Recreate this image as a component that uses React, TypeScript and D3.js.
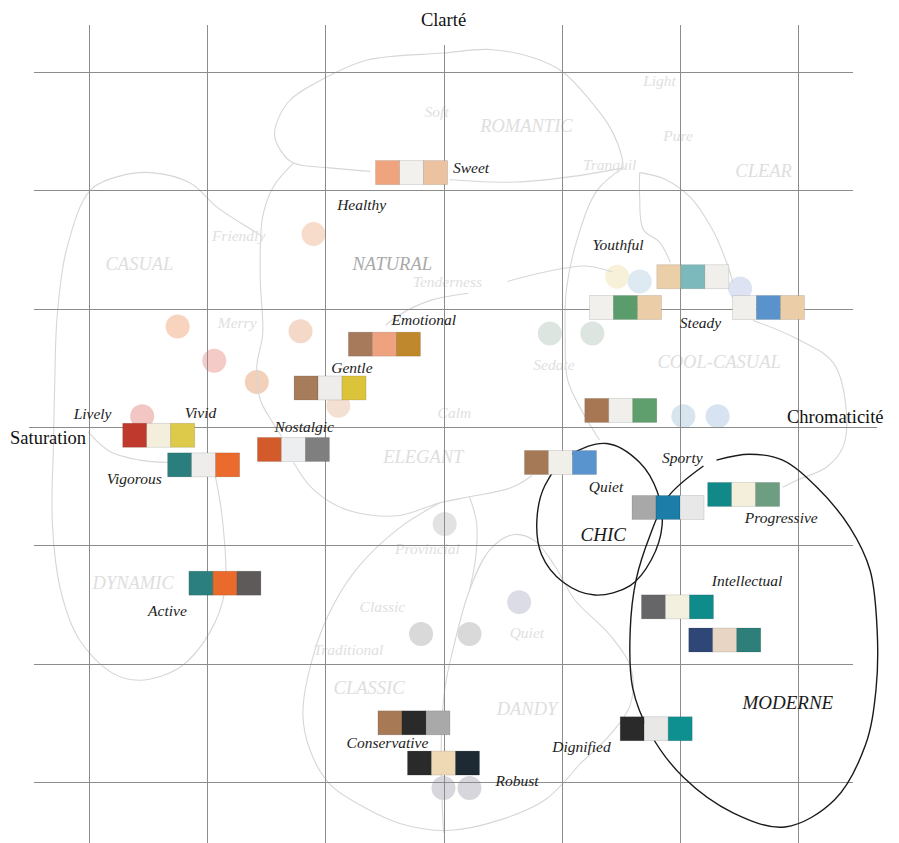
import React from 'react';
import * as d3 from 'd3';

const W = 899;
const H = 843;

// image scale: grid units, -3..3 on both axes
const gridTicks = [-3, -2, -1, 0, 1, 2, 3];

// three-colour palettes: centre of the strip in grid units
const paletteX = [-0.27, 2.11, 1.54, 2.75, -0.5, -0.96, -2.41, -2.03, -1.27, 1.5, 0.99, 1.9, 2.54, -1.85, 1.98, 2.38, 1.8, -0.25, 0.0];
const paletteY = [2.15, 1.27, 1.01, 1.01, 0.7, 0.33, -0.07, -0.32, -0.19, 0.14, -0.3, -0.68, -0.57, -1.32, -1.52, -1.8, -2.55, -2.5, -2.84];
const paletteColors = [
  ['#EFA47E', '#F3F1EE', '#EBC3A0'], // sweet / healthy
  ['#EBCFA8', '#7CB9BC', '#F1EFEB'], // youthful
  ['#F1F0EC', '#5B9C6C', '#EBCDA8'], // steady
  ['#F1EFEB', '#5A93CC', '#EBCDA8'], // steady
  ['#A87A5C', '#EFA27F', '#C0882C'], // emotional
  ['#A77C5B', '#EEEDEB', '#DCC43A'], // gentle
  ['#BF3A2C', '#F3EFDC', '#DDC94A'], // lively / vivid
  ['#2A7E7E', '#EEEDEB', '#EA6B2D'], // vigorous
  ['#D35A2B', '#EDEEEF', '#7F7F7F'], // nostalgic
  ['#A67752', '#F1EFEB', '#5E9F6D'],
  ['#A57955', '#F1EFEA', '#5A94CE'], // quiet
  ['#A8A8A8', '#1C7EA8', '#E8E8E8'], // sporty
  ['#128989', '#F3EFDA', '#6E9E82'], // progressive
  ['#2B7F7E', '#EA6A2C', '#5E5A5A'], // active
  ['#666668', '#F3F0DF', '#0F8B8B'], // intellectual
  ['#2F4777', '#E8D5C4', '#2E7E79'],
  ['#2A2A2A', '#E8E8E6', '#0F9090'], // dignified
  ['#A77A55', '#2A2A2A', '#A9A9A9'], // conservative
  ['#2A2A2A', '#EFD9B4', '#1E2A33'], // robust
];

// palette labels (start, baseline) in grid units
const labelText = ['Sweet', 'Healthy', 'Youthful', 'Steady', 'Emotional', 'Gentle', 'Lively', 'Vivid', 'Vigorous', 'Nostalgic', 'Quiet', 'Sporty', 'Progressive', 'Active', 'Intellectual', 'Dignified', 'Conservative', 'Robust'];
const labelX = [0.08, -0.9, 1.26, 2.0, -0.44, -0.95, -3.13, -2.19, -2.85, -1.43, 1.23, 1.85, 2.55, -2.5, 2.27, 0.92, -0.82, 0.44];
const labelY = [2.15, 1.83, 1.5, 0.84, 0.86, 0.46, 0.07, 0.08, -0.48, -0.04, -0.55, -0.3, -0.81, -1.6, -1.34, -2.75, -2.71, -3.03];

// faded background regions
const regionText = ['ROMANTIC', 'CLEAR', 'CASUAL', 'NATURAL', 'COOL-CASUAL', 'ELEGANT', 'DYNAMIC', 'CLASSIC', 'DANDY'];
const regionX = [0.31, 2.47, -2.86, -0.77, 1.81, -0.51, -2.97, -0.93, 0.45];
const regionY = [2.49, 2.11, 1.33, 1.33, 0.5, -0.3, -1.37, -2.26, -2.43];

const wordText = ['Soft', 'Light', 'Pure', 'Tranquil', 'Friendly', 'Merry', 'Tenderness', 'Sedate', 'Calm', 'Provincial', 'Classic', 'Traditional', 'Quiet'];
const wordX = [-0.16, 1.69, 1.86, 1.18, -1.96, -1.91, -0.26, 0.76, -0.05, -0.41, -0.71, -1.1, 0.56];
const wordY = [2.62, 2.88, 2.42, 2.17, 1.57, 0.84, 1.18, 0.48, 0.08, -1.07, -1.56, -1.93, -1.78];

const dotX = [-1.1, -2.25, -1.94, -1.58, -1.21, -0.89, -2.55, 0.9, 1.26, 1.47, 1.66, 2.51, 2.03, 2.32, 0.01, -0.19, 0.22, 0.64, 0.0, 0.22];
const dotY = [1.63, 0.85, 0.56, 0.38, 0.81, 0.18, 0.09, 0.79, 0.79, 1.27, 1.23, 1.17, 0.09, 0.09, -0.82, -1.75, -1.75, -1.48, -3.05, -3.05];
const dotColor = ['#F7DCCB', '#F8D3BD', '#F4CBC6', '#F3D0BA', '#F4D8C8', '#F3E0D3', '#F2C6C2', '#DCE5DF', '#DCE5DF', '#F7F1DA', '#DEEAF1', '#DEE3F3', '#D7E5EF', '#D8E3F1', '#E2E2E2', '#D9D9D9', '#D9D9D9', '#DCDCE6', '#D6D6DC', '#D6D6DC'];

const faintCurves: [number, number][][] = [
  // casual / dynamic
  [[-1.93, -0.42], [-1.87, -0.79], [-1.85, -1.38], [-1.98, -1.74], [-2.23, -2.03], [-2.57, -2.14], [-2.8, -2.08], [-3.08, -1.8], [-3.24, -1.38], [-3.31, -0.81], [-3.3, -0.11], [-3.29, 0.37], [-3.27, 0.93], [-3.19, 1.5], [-2.99, 2.0], [-2.74, 2.12], [-2.48, 2.15], [-2.14, 2.06], [-1.92, 1.86], [-1.66, 1.69], [-1.53, 1.61]],
  [[-3.01, -0.04], [-2.82, -0.21], [-2.57, -0.28], [-2.33, -0.3]],
  // romantic
  [[-0.62, 2.16], [-0.96, 2.19], [-1.27, 2.23], [-1.38, 2.34], [-1.43, 2.48], [-1.32, 2.74], [-1.04, 2.93], [-0.65, 3.1], [0.0, 3.16], [0.39, 3.19], [0.76, 3.12], [1.01, 3.0], [1.24, 2.76], [1.41, 2.53], [1.51, 2.28], [1.52, 2.19]],
  [[0.05, 2.09], [0.62, 2.07], [1.11, 2.12], [1.52, 2.19]],
  // natural
  [[-1.27, 2.23], [-1.44, 2.03], [-1.53, 1.78], [-1.55, 1.5], [-1.55, 1.22], [-1.53, 0.79], [-1.58, 0.51], [-1.55, 0.23], [-1.44, 0.03], [-1.37, -0.08]],
  // cool-casual
  [[1.52, 2.19], [1.3, 2.0], [1.13, 1.58], [1.04, 1.16], [1.03, 0.74], [1.05, 0.4], [1.18, 0.12], [1.32, -0.11]],
  [[1.66, 2.15], [1.86, 2.1], [2.09, 1.94], [2.28, 1.66], [2.4, 1.38], [2.45, 1.22]],
  [[1.66, 2.15], [1.66, 1.94], [1.69, 1.67], [1.83, 1.56], [1.92, 1.39]],
  [[2.62, 0.9], [2.96, 0.76], [3.3, 0.54], [3.41, 0.12], [3.38, -0.17], [3.24, -0.34], [2.99, -0.45], [2.87, -0.51]],
  // tenderness
  [[1.43, 1.31], [1.2, 1.36], [0.86, 1.31], [0.54, 1.23]],
  [[0.21, 1.13], [-0.11, 1.07], [-0.37, 0.95], [-0.49, 0.86]],
  // elegant
  [[-1.27, -0.3], [-1.1, -0.53], [-0.82, -0.7], [-0.39, -0.75], [-0.03, -0.64], [0.22, -0.59], [0.58, -0.51], [0.75, -0.41]],
  [[0.22, -0.59], [0.28, -0.81], [0.27, -1.12], [0.22, -1.38]],
  // classic
  [[-0.03, -0.64], [-0.37, -0.85], [-0.71, -1.17], [-0.93, -1.5], [-1.09, -1.89], [-1.19, -2.42], [-1.13, -2.73], [-0.96, -3.02], [-0.66, -3.22], [-0.37, -3.35], [0.03, -3.41], [0.48, -3.32], [0.86, -3.15], [1.15, -2.85]],
  // dandy
  [[0.0, -3.43], [-0.02, -2.73], [0.01, -2.22], [0.1, -1.8], [0.22, -1.38], [0.39, -1.04], [0.59, -0.91], [0.77, -0.96], [0.94, -1.17], [1.11, -1.46], [1.41, -1.76], [1.59, -2.05], [1.58, -2.35], [1.41, -2.6], [1.15, -2.85]],
];

const chicCurve: [number, number][] = [[1.38, -0.14], [1.66, -0.3], [1.81, -0.55], [1.85, -0.83], [1.76, -1.12], [1.58, -1.34], [1.28, -1.42], [1.01, -1.31], [0.83, -1.08], [0.79, -0.79], [0.86, -0.49], [1.07, -0.24]];
const moderneCurve: [number, number][] = [[2.31, -0.28], [2.59, -0.23], [2.87, -0.28], [3.16, -0.51], [3.44, -0.85], [3.61, -1.21], [3.67, -1.72], [3.66, -2.22], [3.57, -2.69], [3.31, -3.15], [2.89, -3.38], [2.45, -3.26], [2.03, -2.96], [1.75, -2.59], [1.6, -2.2], [1.58, -1.72], [1.63, -1.29], [1.75, -0.91], [1.9, -0.59], [2.2, -0.33]];

const SERIF = '"Liberation Serif", "Times New Roman", serif';

export default function App() {
  const x = d3.scaleLinear().domain([-3, 3]).range([89, 798]);
  const y = d3.scaleLinear().domain([3, -3]).range([72, 782]);

  const line = d3.line<[number, number]>()
    .x(d => x(d[0]))
    .y(d => y(d[1]))
    .curve(d3.curveCatmullRom.alpha(0.5));
  const closed = d3.line<[number, number]>()
    .x(d => x(d[0]))
    .y(d => y(d[1]))
    .curve(d3.curveCatmullRomClosed.alpha(0.5));

  const sq = 24;
  const crisp = (v: number) => Math.round(v) + 0.5;

  return (
    <svg
      width={W}
      height={H}
      style={{ position: 'absolute', left: 0, top: 0, background: '#fff' }}
      fontFamily={SERIF}
    >
      <rect width={W} height={H} fill="#fff" />

      {/* faded background layer */}
      <g>
        {dotX.map((d, i) => (
          <circle key={'dot' + i} cx={x(d)} cy={y(dotY[i])} r={12} fill={dotColor[i]} />
        ))}
        {faintCurves.map((c, i) => (
          <path key={'fc' + i} d={line(c) || ''} fill="none" stroke="#d6d6d6" strokeWidth={1.1} />
        ))}
        {regionText.map((t, i) => (
          <text key={'rg' + i} x={x(regionX[i])} y={y(regionY[i])} fontSize={18.5} fontStyle="italic"
            fill={t === 'NATURAL' ? '#a9a9a9' : '#dedede'}>{t}</text>
        ))}
        {wordText.map((t, i) => (
          <text key={'wd' + i} x={x(wordX[i])} y={y(wordY[i])} fontSize={15.5} fontStyle="italic" fill="#e0e0e0">{t}</text>
        ))}
      </g>

      {/* grid */}
      <g stroke="#8c8c8c" strokeWidth={1}>
        {gridTicks.map(t => (
          <line key={'v' + t} x1={crisp(x(t))} x2={crisp(x(t))} y1={t === 0 ? 45 : 25} y2={H} />
        ))}
        {gridTicks.map(t => (
          <line key={'h' + t} x1={t === 0 ? 29 : 34} x2={t === 0 ? 877 : 853} y1={crisp(y(t))} y2={crisp(y(t))} />
        ))}
      </g>

      {/* axis titles */}
      <text x={x(0)} y={26} fontSize={18.5} textAnchor="middle" fill="#111">Clarté</text>
      <text x={10} y={444} fontSize={18.5} fill="#111">Saturation</text>
      <text x={787} y={423} fontSize={18.5} fill="#111">Chromaticité</text>

      {/* style families */}
      <path d={closed(chicCurve) || ''} fill="none" stroke="#1a1a1a" strokeWidth={1.4} />
      <path d={line(moderneCurve) || ''} fill="none" stroke="#1a1a1a" strokeWidth={1.4} />

      {/* palettes */}
      {paletteX.map((px, i) => {
        const left = x(px) - 1.5 * sq;
        const top = y(paletteY[i]) - sq / 2;
        return (
          <g key={'p' + i}>
            {paletteColors[i].map((c, j) => (
              <rect key={j} x={left + j * sq} y={top} width={sq} height={sq} fill={c}
                stroke="rgba(0,0,0,0.14)" strokeWidth={0.8} />
            ))}
          </g>
        );
      })}

      {labelText.map((t, i) => (
        <text key={'lb' + i} x={x(labelX[i])} y={y(labelY[i])} fontSize={15.5} fontStyle="italic" fill="#222">{t}</text>
      ))}

      <text x={x(1.16)} y={y(-0.96)} fontSize={19} fontStyle="italic" fill="#1a1a1a">CHIC</text>
      <text x={x(2.53)} y={y(-2.38)} fontSize={19} fontStyle="italic" fill="#1a1a1a">MODERNE</text>
    </svg>
  );
}
